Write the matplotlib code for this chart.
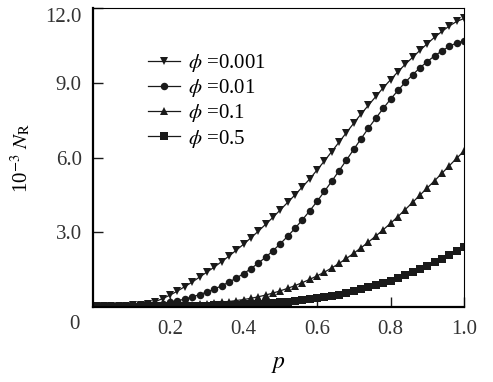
import matplotlib
matplotlib.use("Agg")
import matplotlib.pyplot as plt
import numpy as np

plt.rcParams['font.family'] = ['Liberation Serif', 'DejaVu Serif']
plt.rcParams['mathtext.fontset'] = 'stix'

# p values, step 0.02
p = np.linspace(0, 1.0, 51)

# 10^-3 N_R
n_phi_0001 = [0.05, 0.05, 0.05, 0.05, 0.06, 0.07, 0.09, 0.14, 0.22, 0.34,
              0.48, 0.64, 0.82, 1.00, 1.20, 1.40, 1.60, 1.82, 2.04, 2.28,
              2.52, 2.78, 3.04, 3.32, 3.60, 3.90, 4.20, 4.50, 4.82, 5.14,
              5.50, 5.86, 6.24, 6.62, 7.00, 7.38, 7.75, 8.10, 8.45, 8.80,
              9.12, 9.44, 9.74, 10.02, 10.30, 10.57, 10.83, 11.06, 11.28, 11.46,
              11.58]
n_phi_001 = [0.03, 0.03, 0.03, 0.03, 0.03, 0.04, 0.05, 0.07, 0.10, 0.14,
             0.19, 0.25, 0.32, 0.40, 0.50, 0.60, 0.72, 0.85, 1.00, 1.16,
             1.34, 1.54, 1.76, 2.00, 2.26, 2.54, 2.84, 3.16, 3.50, 3.86,
             4.24, 4.64, 5.05, 5.47, 5.90, 6.33, 6.76, 7.18, 7.58, 7.97,
             8.34, 8.69, 9.02, 9.32, 9.60, 9.85, 10.08, 10.28, 10.46, 10.60,
             10.68]
n_phi_01 = [0.04, 0.04, 0.04, 0.04, 0.04, 0.05, 0.05, 0.05, 0.06, 0.06,
            0.07, 0.08, 0.09, 0.10, 0.12, 0.14, 0.16, 0.19, 0.22, 0.26,
            0.30, 0.35, 0.41, 0.48, 0.56, 0.65, 0.75, 0.86, 0.98, 1.11,
            1.25, 1.40, 1.57, 1.75, 1.95, 2.16, 2.38, 2.61, 2.85, 3.10,
            3.36, 3.63, 3.91, 4.20, 4.49, 4.78, 5.07, 5.37, 5.67, 5.97,
            6.26]
n_phi_05 = [0.02, 0.02, 0.02, 0.02, 0.02, 0.02, 0.03, 0.03, 0.03, 0.03,
            0.04, 0.04, 0.05, 0.05, 0.06, 0.06, 0.07, 0.08, 0.09, 0.10,
            0.11, 0.12, 0.14, 0.16, 0.18, 0.20, 0.22, 0.25, 0.28, 0.31,
            0.35, 0.39, 0.44, 0.49, 0.55, 0.65, 0.72, 0.80, 0.88, 0.97,
            1.06, 1.16, 1.27, 1.39, 1.52, 1.65, 1.79, 1.94, 2.10, 2.26,
            2.42]

series = [
    (n_phi_0001, 'v', r'$\phi$ =0.001'),
    (n_phi_001, 'o', r'$\phi$ =0.01'),
    (n_phi_01, '^', r'$\phi$ =0.1'),
    (n_phi_05, 's', r'$\phi$ =0.5'),
]

fig = plt.figure(figsize=(4.93, 3.82), dpi=100)
ax = fig.add_axes([0.1886, 0.1963, 0.7526, 0.7827])

for vals, mk, lab in series:
    ax.plot(p, vals, color='#1a1a1a', lw=0.9, marker=mk, markersize=5.4,
            markeredgewidth=0, label=lab)

ax.set_xlim(-0.01, 1.0)
ax.set_ylim(0, 12.0)

ax.set_xticks([0.2, 0.4, 0.6, 0.8, 1.0])
ax.set_xticklabels(['0.2', '0.4', '0.6', '0.8', '1.0'])
ax.set_yticks([3, 6, 9, 12])
ax.set_yticklabels(['3.0', '6.0', '9.0', '12.0'])
ax.get_yticklabels()[-1].set_va('top')
ax.tick_params(direction='in', length=7, width=1, labelsize=15,
               colors='#1a1a1a', labelcolor='#333333')
ax.tick_params(axis='x', pad=9)
ax.tick_params(axis='y', pad=8)

for s in ['left', 'bottom']:
    ax.spines[s].set_linewidth(1.6)
for s in ['top', 'right']:
    ax.spines[s].set_linewidth(0.8)

# origin label
ax.text(-0.05, -0.06, '0', transform=ax.transAxes, fontsize=15,
        color='#333333', ha='center', va='center')

ax.set_xlabel(r'$p$', fontsize=17, labelpad=11)
ax.set_ylabel(r'10$^{-3}$ $N_\mathrm{R}$', fontsize=15, labelpad=9)

ax.legend(loc='upper left', bbox_to_anchor=(0.125, 0.88), frameon=False,
          fontsize=15, handlelength=1.55, handletextpad=0.4,
          labelspacing=0.15, borderaxespad=0)

fig.savefig('out.png', dpi=100)
